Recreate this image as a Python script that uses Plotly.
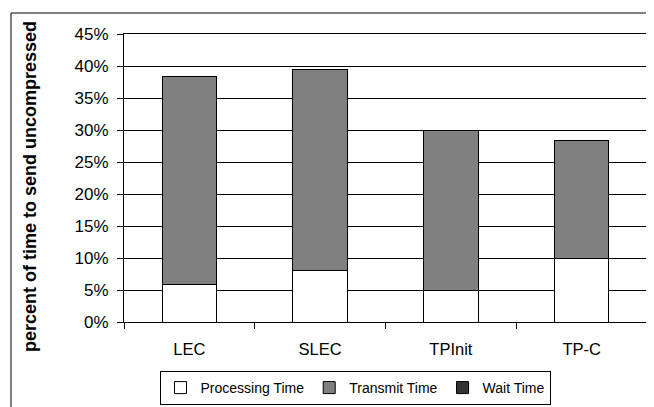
import plotly.graph_objects as go

categories = ["LEC", "SLEC", "TPInit", "TP-C"]
processing_time = [5.9, 8.0, 5.0, 10.0]
transmit_time = [32.5, 31.5, 25.0, 18.4]
wait_time = [0.0, 0.0, 0.0, 0.0]
y_ticks = [0, 5, 10, 15, 20, 25, 30, 35, 40, 45]
y_title = "percent of time to send uncompressed"

FONT = "Liberation Sans, Arial, sans-serif"

fig = go.Figure()
fig.add_trace(go.Bar(name="Processing Time", x=categories, y=processing_time,
                     marker=dict(color="#FFFFFF", line=dict(color="#000000", width=1))))
fig.add_trace(go.Bar(name="Transmit Time", x=categories, y=transmit_time,
                     marker=dict(color="#808080", line=dict(color="#000000", width=1))))
fig.add_trace(go.Bar(name="Wait Time", x=categories, y=wait_time,
                     marker=dict(color="#333333", line=dict(color="#000000", width=1))))

OFF = 8  # page body margin offset
W, H = 654, 407
L, R, T, B = 124 - OFF, 647 - OFF, 34 - OFF, 322 - OFF

def px(x):
    return (x - OFF - L) / (R - L)

def py(y):
    return (B - (y - OFF)) / (B - T)

fig.update_layout(
    width=W, height=H,
    margin=dict(l=L, r=W - R, t=T, b=H - B, autoexpand=False),
    barmode="stack",
    bargap=0.585,
    plot_bgcolor="white",
    paper_bgcolor="white",
    font=dict(family=FONT, size=17, color="black"),
    showlegend=True,
    legend=dict(orientation="h", x=px(355), xanchor="center", y=py(371), yanchor="top",
                bordercolor="black", borderwidth=1, font=dict(size=14),
                traceorder="normal", itemwidth=30, tracegroupgap=0),
    xaxis=dict(showline=True, linecolor="black", linewidth=1, mirror=True,
               ticks="outside", ticklen=6, tickcolor="black", tickson="boundaries",
               tickfont=dict(size=16.5), showgrid=False, automargin=False,
               ticklabelstandoff=12),
    yaxis=dict(range=[0, 45], tickvals=y_ticks, ticktext=[f"{v}%" for v in y_ticks],
               showline=True, linecolor="black", linewidth=1, mirror=True,
               ticks="outside", ticklen=6, tickcolor="black",
               showgrid=True, gridcolor="black", gridwidth=1, automargin=False,
               tickfont=dict(size=17), ticklabelstandoff=5),
    annotations=[dict(text=f"<b>{y_title}</b>", xref="paper", yref="paper",
                      x=px(30), y=py(187), xanchor="center", yanchor="middle",
                      textangle=-90, showarrow=False, font=dict(size=18))],
    shapes=[dict(type="rect", xref="paper", yref="paper",
                 x0=px(11), x1=px(720), y0=py(480), y1=py(13),
                 line=dict(color="black", width=1), fillcolor="rgba(0,0,0,0)", layer="below")],
)

fig.write_html("out.html")
